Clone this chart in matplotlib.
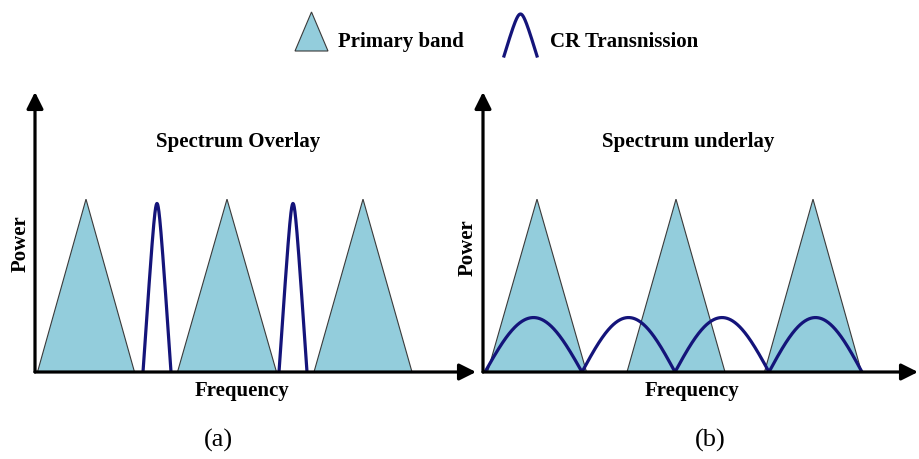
import numpy as np
import matplotlib
matplotlib.use("Agg")
import matplotlib.pyplot as plt
from matplotlib.patches import Polygon

W, H = 920, 460
FILL = "#93CDDC"
EDGE = "#3a3a3a"
CURVE = "#14147a"
SERIF = "Liberation Serif"

# ---- data (frequency units from the power axis, power relative to primary peak) ----
# Panel (a): spectrum overlay
a_band_centers = [5.1, 19.2, 32.8]
a_band_halfwidth = [4.85, 4.95, 4.9]
a_band_height = [1.0, 1.0, 1.0]
a_cr_centers = [12.2, 25.8]
a_cr_halfwidth = [1.4, 1.4]
a_cr_height = [0.975, 0.975]

# Panel (b): spectrum underlay
b_band_centers = [5.4, 19.3, 33.0]
b_band_halfwidth = [4.95, 4.9, 4.85]
b_band_height = [1.0, 1.0, 1.0]
b_cr_starts = [0.2, 9.9, 19.2, 28.6]
b_cr_ends = [9.9, 19.2, 28.6, 37.9]
b_cr_height = [0.315, 0.315, 0.315, 0.315]

titles = ["Spectrum Overlay", "Spectrum underlay"]
xlabel = "Frequency"
ylabel = "Power"
captions = ["(a)", "(b)"]
legend_labels = ["Primary band", "CR Transnission"]

fig = plt.figure(figsize=(W / 100, H / 100), dpi=100)

def px_axes(left, right, bottom, top):
    return fig.add_axes([left / W, 1 - bottom / H, (right - left) / W, (bottom - top) / H])

def draw_axes_arrows(ax, xmax, ymax):
    style = "-|>,head_length=1.0,head_width=0.5"
    for xy in [(xmax, 0), (0, ymax)]:
        ax.annotate("", xy=xy, xytext=(0, 0), xycoords="data",
                    arrowprops=dict(arrowstyle=style, lw=2.3, color="black",
                                    shrinkA=0, shrinkB=0),
                    annotation_clip=False, zorder=10)

def draw_bands(ax, centers, halfw, heights):
    for c, hw, h in zip(centers, halfw, heights):
        tri = Polygon([(c - hw, 0), (c, h), (c + hw, 0)], closed=True,
                      facecolor=FILL, edgecolor=EDGE, lw=0.8, zorder=2)
        ax.add_patch(tri)

def pulse(u, eps=0.2):
    # triangle-like pulse with a rounded tip, 0 at |u| = 1, 1 at u = 0
    top = np.sqrt(1 + eps ** 2)
    return (top - np.sqrt(u ** 2 + eps ** 2)) / (top - eps)

# Panel (a)
axa = px_axes(35, 476, 373, 93)
axa.set_xlim(0, 44.1)
axa.set_ylim(0, 1.62)
axa.axis("off")
draw_bands(axa, a_band_centers, a_band_halfwidth, a_band_height)
for c, hw, h in zip(a_cr_centers, a_cr_halfwidth, a_cr_height):
    x = np.linspace(c - hw, c + hw, 300)
    y = h * pulse((x - c) / hw, eps=0.22)
    axa.plot(x, y, color=CURVE, lw=2.3, zorder=5)
draw_axes_arrows(axa, 44.1, 1.62)

# Panel (b)
axb = px_axes(483, 918, 373, 93)
axb.set_xlim(0, 43.5)
axb.set_ylim(0, 1.62)
axb.axis("off")
draw_bands(axb, b_band_centers, b_band_halfwidth, b_band_height)
xs, ys = [], []
for s, e, h in zip(b_cr_starts, b_cr_ends, b_cr_height):
    x = np.linspace(s, e, 200)
    y = h * np.sin(np.pi * (x - s) / (e - s))
    xs.append(x); ys.append(y)
axb.plot(np.concatenate(xs), np.concatenate(ys), color=CURVE, lw=2.3, zorder=5)
draw_axes_arrows(axb, 43.5, 1.62)

def ftext(x, y, s, **kw):
    fig.text(x / W, 1 - y / H, s, family=SERIF, **kw)

# Titles and labels
ftext(238, 142, titles[0], ha="center", va="center", fontsize=15, weight="bold")
ftext(688, 142, titles[1], ha="center", va="center", fontsize=15, weight="bold")
ftext(242, 391, xlabel, ha="center", va="center", fontsize=15, weight="bold")
ftext(692, 391, xlabel, ha="center", va="center", fontsize=15, weight="bold")
ftext(21, 244, ylabel, ha="center", va="center", fontsize=15, weight="bold", rotation=90)
ftext(468, 248, ylabel, ha="center", va="center", fontsize=15, weight="bold", rotation=90)
ftext(218, 440, captions[0], ha="center", va="center", fontsize=19)
ftext(710, 440, captions[1], ha="center", va="center", fontsize=19)

# Legend
axl = fig.add_axes([0, 0, 1, 1], facecolor="none")
axl.set_xlim(0, W)
axl.set_ylim(H, 0)
axl.axis("off")
axl.add_patch(Polygon([(295, 52), (311.5, 13), (328, 52)], closed=True,
                      facecolor=FILL, edgecolor=EDGE, lw=0.8))
lx = np.linspace(504, 537, 200)
ly = 57 - 42 * pulse((lx - 520.5) / 16.5, eps=0.3)
axl.plot(lx, ly, color=CURVE, lw=2.3)
ftext(338, 42, legend_labels[0], ha="left", va="center", fontsize=15, weight="bold")
ftext(550, 42, legend_labels[1], ha="left", va="center", fontsize=15, weight="bold")

fig.savefig("out.png", dpi=100, facecolor="white")
